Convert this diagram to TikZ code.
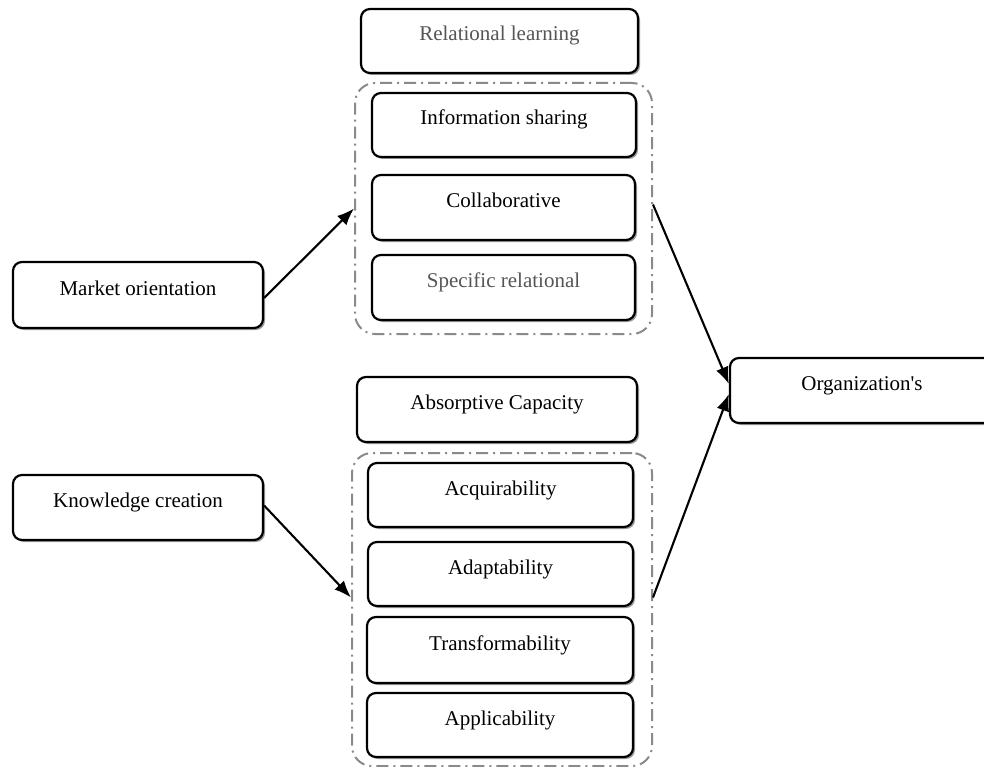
\documentclass[tikz,border=0pt]{standalone}
\usepackage{fontspec}
\setmainfont{Liberation Serif}
\usetikzlibrary{shadows,arrows.meta}
\definecolor{grouplinecol}{HTML}{8A8A8A}
\definecolor{graytext}{HTML}{555555}
\tikzset{
  box/.style={draw=black, line width=2.2pt, rounded corners=9pt, fill=white,
    drop shadow={shadow xshift=2pt, shadow yshift=-2pt, fill=black!50, opacity=0.8},
    font=\fontsize{21}{24}\selectfont, text height=15pt, text depth=15pt, inner sep=0pt},
  grp/.style={draw=grouplinecol, line width=2pt, rounded corners=20pt,
    dash pattern=on 12pt off 5pt on 2pt off 5pt, inner sep=0pt},
  conn/.style={line width=2.1pt, -{Latex[length=17pt, width=13pt]}}
}
\begin{document}
\begin{tikzpicture}[x=1pt, y=-1pt]
\useasboundingbox (0,0) rectangle (984,767);
% groups
\node[grp, minimum width=297pt, minimum height=251pt] (g1) at (503.5,208.5) {};
\node[grp, minimum width=300pt, minimum height=313pt] (g2) at (502,609.5) {};
% boxes
\node[box, text=graytext, minimum width=277pt, minimum height=64pt] (rl) at (499.5,41) {Relational learning};
\node[box, minimum width=264pt, minimum height=64pt] (is) at (504,125) {Information sharing};
\node[box, minimum width=263pt, minimum height=65pt] (co) at (503.5,207.5) {Collaborative};
\node[box, text=graytext, minimum width=263pt, minimum height=65pt] (sr) at (503.5,287.5) {Specific relational};
\node[box, minimum width=250pt, minimum height=66pt] (mo) at (138,295) {Market orientation};
\node[box, minimum width=264pt, minimum height=65pt] (org) at (862,390.5) {Organization\textquotesingle s};
\node[box, minimum width=280pt, minimum height=65pt] (ac) at (497,409.5) {Absorptive Capacity};
\node[box, minimum width=265pt, minimum height=64pt] (aq) at (500.5,495) {Acquirability};
\node[box, minimum width=265pt, minimum height=64pt] (ad) at (500.5,574) {Adaptability};
\node[box, minimum width=266pt, minimum height=66pt] (tr) at (500,650) {Transformability};
\node[box, minimum width=266pt, minimum height=64pt] (ap) at (500,725) {Applicability};
\node[box, minimum width=250pt, minimum height=65pt] (kc) at (138,507.5) {Knowledge creation};
% connectors
\draw[conn] ([yshift=-3pt]mo.east) -- (g1.west);
\draw[conn] ([yshift=4pt]g1.east) -- ([yshift=6.5pt]org.west);
\draw[conn] ([yshift=2pt]kc.east) -- ([yshift=12pt]g2.west);
\draw[conn] ([yshift=12pt]g2.east) -- ([yshift=-3.5pt]org.west);
\end{tikzpicture}
\end{document}
